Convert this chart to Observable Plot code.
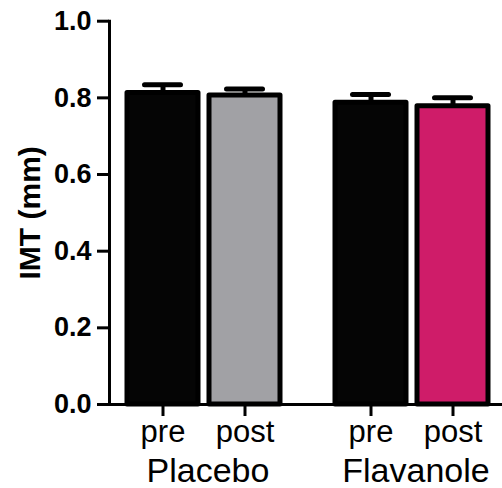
<!DOCTYPE html>
<html>
<head>
<meta charset="utf-8">
<script src="https://cdn.jsdelivr.net/npm/d3@7"></script>
<script src="https://cdn.jsdelivr.net/npm/@observablehq/plot@0.6"></script>
<style>
  html, body { margin: 0; padding: 0; background: #fff; }
</style>
</head>
<body>
<div id="chart"></div>
<script>
const groups = ["Placebo", "Placebo", "Flavanole", "Flavanole"];
const times = ["pre", "post", "pre", "post"];
const means = [0.813, 0.806, 0.787, 0.778];
const sems = [0.021, 0.017, 0.022, 0.022];
const fills = ["#050505", "#a1a1a5", "#050505", "#cf1c69"];
const groupOrder = ["Placebo", "Flavanole"];
const timeOrder = ["pre", "post"];
const yTicks = [0, 0.2, 0.4, 0.6, 0.8, 1.0];
const yLabel = "IMT (mm)";

const data = groups.map((g, i) => ({
  group: g, time: times[i], value: means[i], err: sems[i], fill: fills[i]
}));

const chart = Plot.plot({
  width: 502,
  height: 488,
  marginLeft: 108,
  marginRight: 0,
  marginTop: 20.7,
  marginBottom: 84,
  style: {
    fontFamily: "'Liberation Sans', Arial, Helvetica, sans-serif",
    background: "white",
    color: "black",
    overflow: "visible"
  },
  fx: {domain: groupOrder, paddingInner: 0.112, paddingOuter: 0},
  x: {domain: timeOrder, paddingInner: 0.133, paddingOuter: 0.19, align: 0.56},
  y: {domain: [0, 1]},
  color: {type: "identity"},
  marks: [
    Plot.ruleX(data, {fx: "group", x: "time", y1: "value", y2: d => d.value + d.err, stroke: "black", strokeWidth: 5}),
    Plot.tickY(data, {fx: "group", x: "time", y: d => d.value + d.err, stroke: "black", strokeWidth: 5, strokeLinecap: "round", insetLeft: 17.5, insetRight: 17.5}),
    Plot.barY(data, {fx: "group", x: "time", y: "value", fill: d => d.fill, stroke: "black", strokeWidth: 5, strokeLinejoin: "round"}),
    Plot.axisY({
      ticks: yTicks, tickFormat: d3.format(".1f"), tickSize: 12, tickPadding: 6,
      strokeWidth: 3, fontSize: 27, fontWeight: "bold", label: null
    }),
    Plot.axisX({tickSize: 12, tickPadding: 3, strokeWidth: 3, fontSize: 31, label: null}),
    Plot.axisFx({anchor: "bottom", tickSize: 0, tickPadding: 53, fontSize: 34, label: null, dx: 6}),
    Plot.frame({anchor: "bottom", facet: "super", stroke: "black", strokeWidth: 3}),
    Plot.frame({anchor: "left", facet: "super", stroke: "black", strokeWidth: 3}),
    Plot.text([yLabel], {
      text: d => d, facet: "super", frameAnchor: "left", dx: -79,
      rotate: -90, textAnchor: "middle", lineAnchor: "middle",
      fontSize: 30, fontWeight: "bold", fill: "black"
    })
  ]
});
document.getElementById("chart").appendChild(chart);
</script>
</body>
</html>
